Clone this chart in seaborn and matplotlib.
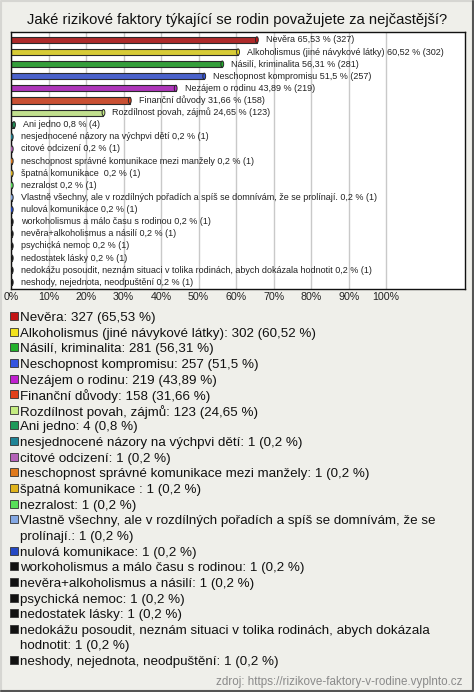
import textwrap
import numpy as np
import pandas as pd
import matplotlib
matplotlib.use("Agg")
import matplotlib.pyplot as plt
from matplotlib.patches import Rectangle
from matplotlib.lines import Line2D
from matplotlib.path import Path
from matplotlib.transforms import Affine2D
import seaborn as sns

# ---------------- data ----------------
title = "Jaké rizikové faktory týkající se rodin považujete za nejčastější?"
source = "zdroj: https://rizikove-faktory-v-rodine.vyplnto.cz"

categories = [
    "Nevěra",
    "Alkoholismus (jiné návykové látky)",
    "Násilí, kriminalita",
    "Neschopnost kompromisu",
    "Nezájem o rodinu",
    "Finanční důvody",
    "Rozdílnost povah, zájmů",
    "Ani jedno",
    "nesjednocené názory na výchpvi dětí",
    "citové odcizení",
    "neschopnost správné komunikace mezi manžely",
    "špatná komunikace ",
    "nezralost",
    "Vlastně všechny, ale v rozdílných pořadích a spíš se domnívám, že se prolínají.",
    "nulová komunikace",
    "workoholismus a málo času s rodinou",
    "nevěra+alkoholismus a násilí",
    "psychická nemoc",
    "nedostatek lásky",
    "nedokážu posoudit, neznám situaci v tolika rodinách, abych dokázala hodnotit",
    "neshody, nejednota, neodpuštění",
]
counts = [327, 302, 281, 257, 219, 158, 123, 4, 1, 1, 1, 1, 1, 1, 1, 1, 1, 1, 1, 1, 1]
percents = [65.53, 60.52, 56.31, 51.5, 43.89, 31.66, 24.65, 0.8,
            0.2, 0.2, 0.2, 0.2, 0.2, 0.2, 0.2, 0.2, 0.2, 0.2, 0.2, 0.2, 0.2]
colors = [
    "#c41414", "#f2e21c", "#22b02a", "#3454e0", "#c020d0", "#e2401a",
    "#c4ec80", "#1e9a5a", "#1f8496", "#b462b8", "#e07a1c", "#e0b41c",
    "#58e05a", "#84a8e4", "#2448c4", "#111111", "#111111", "#111111",
    "#111111", "#111111", "#111111",
]
tick_values = [0, 10, 20, 30, 40, 50, 60, 70, 80, 90, 100]
tick_labels = [f"{v}%" for v in tick_values]

# ---------------- style ----------------
sns.set_theme(style="white")
plt.rcParams["font.family"] = ["Liberation Sans Narrow", "Liberation Sans", "DejaVu Sans"]
BG = "#efefea"
W, H = 474, 692

fig = plt.figure(figsize=(W / 100, H / 100), dpi=100, facecolor=BG)

def fx(px):
    return px / W

def fy(py):
    return 1 - py / H

# plot area
ax_left, ax_right, ax_top, ax_bottom = 11, 465, 32, 289
ax = fig.add_axes([fx(ax_left), fy(ax_bottom), fx(ax_right - ax_left), (ax_bottom - ax_top) / H])
ax.set_facecolor("white")

df = pd.DataFrame({"cat": categories, "pct": percents, "n": counts})
sns.barplot(data=df, y="cat", x="pct", hue="cat", palette=colors, orient="h",
            width=0.5, edgecolor="#2a2a2a", linewidth=0.8, legend=False,
            dodge=False, ax=ax, zorder=2)

# cylinder-like end caps
ell = Path.unit_circle().transformed(Affine2D().scale(0.45, 1.0))
ax.scatter(df["pct"], np.arange(len(df)), marker=ell, s=20, c=colors,
           edgecolors="#2a2a2a", linewidths=0.7, zorder=3)

ax.set_xlim(0, 121)
ax.set_ylim(len(df) - 0.45, -0.65)
ax.set_xticks(tick_values)
ax.set_xticklabels(tick_labels, fontsize=7.7, color="#222222")
ax.set_yticks([])
ax.set_xlabel("")
ax.set_ylabel("")
ax.tick_params(axis="x", length=0, pad=2)
ax.grid(axis="x", color="#c9c9c9", linewidth=1.0)
ax.grid(axis="y", visible=False)
ax.set_axisbelow(True)
for s in ax.spines.values():
    s.set_visible(True)
    s.set_color("#111111")
    s.set_linewidth(1.0)

def fmt(p):
    return f"{p:g}".replace(".", ",")

for i, (c, p, n) in enumerate(zip(categories, percents, counts)):
    ax.annotate(f"{c} {fmt(p)} % ({n})", xy=(p, i), xytext=(9, 0),
                textcoords="offset pixels", va="center", ha="left",
                fontsize=6.5, color="#222222", zorder=4)

# title
fig.text(0.5, fy(20), title, ha="center", va="center", fontsize=10.6, color="#111111")

# legend
y = 318
step = 15.64
for c, p, n, col in zip(categories, percents, counts, colors):
    lines = textwrap.wrap(f"{c}: {n} ({fmt(p)} %)", width=70)
    fig.add_artist(Rectangle((fx(10), fy(y + 2)), fx(8), 8 / H, transform=fig.transFigure,
                             facecolor=col, edgecolor="#333333", linewidth=0.6))
    for ln in lines:
        fig.text(fx(20), fy(y), ln, ha="left", va="center", fontsize=9.6, color="#111111")
        y += step

fig.text(fx(462), fy(682), source, ha="right", va="center", fontsize=8.4, color="#8a8a8a")

# outer frame: light top/left, darker bottom/right
fig.add_artist(Line2D([0.002, 0.002, 0.998], [0.002, 0.998, 0.998], transform=fig.transFigure,
                      color="#d6d6d2", linewidth=1.5))
fig.add_artist(Line2D([0.002, 0.998, 0.998], [0.002, 0.002, 0.998], transform=fig.transFigure,
                      color="#555555", linewidth=1.5))

fig.savefig("out.png", dpi=100, facecolor=BG)
